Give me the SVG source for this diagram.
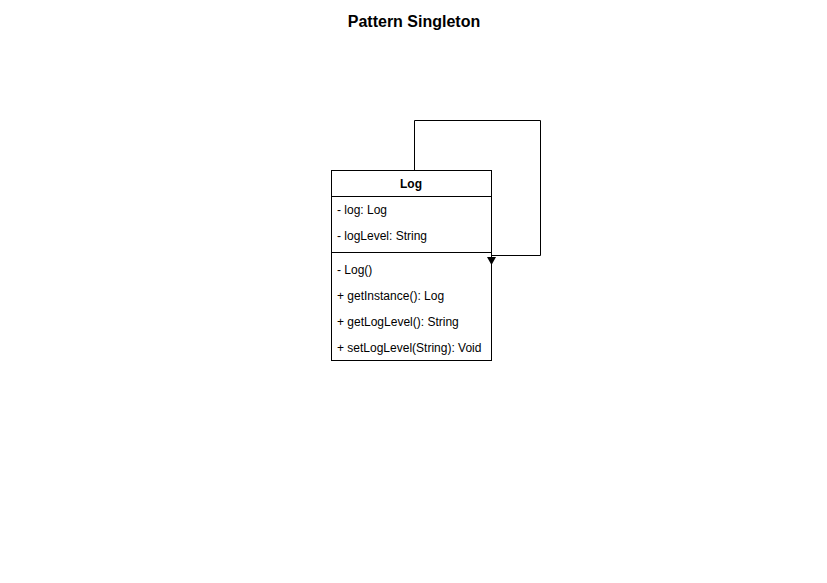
<svg xmlns="http://www.w3.org/2000/svg" width="827" height="583" viewBox="0 0 827 583">
<defs>
<style>
text{font-family:"Liberation Sans",Arial,sans-serif;fill:#000}
.t{font-size:16px;font-weight:bold}
.h{font-size:12px;font-weight:bold}
.m{font-size:12px}
.b{fill:#fff;stroke:#000;stroke-width:1}
.c{fill:none;stroke:#000;stroke-width:1}
</style>
<marker id="arr" viewBox="0 0 8 9" refX="8" refY="4.5" markerWidth="8" markerHeight="9" markerUnits="userSpaceOnUse" orient="auto">
<path d="M0,0 L8,4.5 L0,9 Z" fill="#000"/>
</marker>
</defs>
<rect width="827" height="583" fill="#fff"/>
<text class="t" x="414" y="27" text-anchor="middle">Pattern Singleton</text>
<g id="node-log">
<rect class="b" x="331.5" y="170.5" width="160" height="190"/>
<line class="c" x1="331.5" y1="196.5" x2="491.5" y2="196.5"/>
<line class="c" x1="331.5" y1="252.5" x2="491.5" y2="252.5"/>
<text class="h" x="411" y="188" text-anchor="middle">Log</text>
<text class="m" x="337" y="214">- log: Log</text>
<text class="m" x="337" y="240">- logLevel: String</text>
<text class="m" x="337" y="274">- Log()</text>
<text class="m" x="337" y="300">+ getInstance(): Log</text>
<text class="m" x="337" y="326">+ getLogLevel(): String</text>
<text class="m" x="337" y="352">+ setLogLevel(String): Void</text>
</g>
<g id="connectors">
<path class="c" d="M414.5,170.5 V120.5 H540.5 V255.5 H491.5 V265" marker-end="url(#arr)"/>
</g>
</svg>
